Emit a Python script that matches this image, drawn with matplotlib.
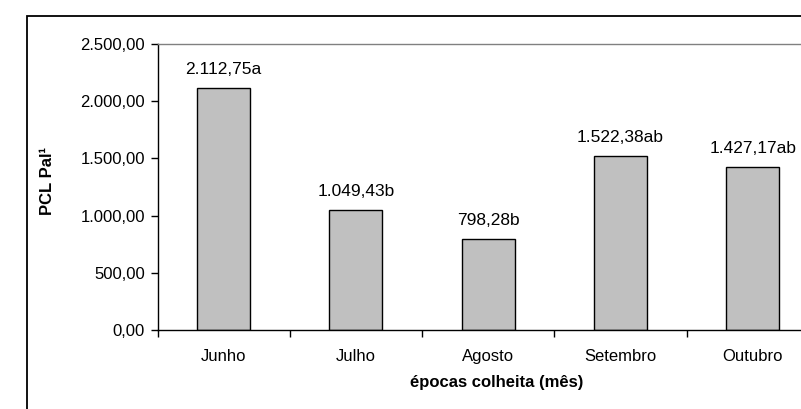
import matplotlib.pyplot as plt
from matplotlib.patches import Rectangle
from matplotlib.ticker import FuncFormatter, FixedLocator

plt.rcParams['font.family'] = ['Liberation Sans', 'DejaVu Sans']

# dados
meses = ['Junho', 'Julho', 'Agosto', 'Setembro', 'Outubro']
pcl = [2112.75, 1049.43, 798.28, 1522.38, 1427.17]
letras = ['a', 'b', 'b', 'ab', 'ab']


def fmt_br(v, pos=None):
    # 1234.5 -> 1.234,50
    s = '{:,.2f}'.format(v)
    return s.replace(',', 'X').replace('.', ',').replace('X', '.')


fig = plt.figure(figsize=(8.01, 4.09), dpi=100)

# moldura da area do grafico
fig.patches.append(Rectangle((27 / 801, -0.1), 1.2, (409 - 16) / 409 + 0.1,
                             transform=fig.transFigure, fill=False,
                             edgecolor='black', linewidth=1.3, zorder=0))

ax = fig.add_axes([157.5 / 801, (409 - 330) / 409, 661.5 / 801, 286 / 409])

x = range(len(meses))
ax.bar(x, pcl, width=0.4, color='#c0c0c0', edgecolor='black', linewidth=1.0)

for xi, v, l in zip(x, pcl, letras):
    ax.text(xi, v + 95, fmt_br(v) + l, ha='center', va='bottom', fontsize=12.5)

ax.set_xlim(-0.5, len(meses) - 0.5)
ax.set_ylim(0, 2500)
ax.set_yticks([0, 500, 1000, 1500, 2000, 2500])
ax.yaxis.set_major_formatter(FuncFormatter(fmt_br))

# marcas do eixo x entre as categorias, nomes no centro
ax.set_xticks(list(x))
ax.set_xticklabels(meses, fontsize=12)
ax.tick_params(axis='x', which='major', length=0, pad=14)
ax.xaxis.set_minor_locator(FixedLocator([i - 0.5 for i in range(len(meses) + 1)]))
ax.tick_params(axis='x', which='minor', length=5, width=1.0, direction='out')
ax.tick_params(axis='y', length=5, width=1.0, direction='out', labelsize=12, pad=4)

for s in ['top', 'right']:
    ax.spines[s].set_color('#808080')
    ax.spines[s].set_linewidth(1.0)
for s in ['left', 'bottom']:
    ax.spines[s].set_color('black')
    ax.spines[s].set_linewidth(1.0)

fig.text(47 / 801, 1 - 181 / 409, 'PCL Pal¹', rotation=90, ha='center',
         va='center', fontsize=12, fontweight='bold')
fig.text(497 / 801, 1 - 382 / 409, 'épocas colheita (mês)', ha='center',
         va='center', fontsize=12, fontweight='bold')

fig.savefig('out.png', dpi=100)
